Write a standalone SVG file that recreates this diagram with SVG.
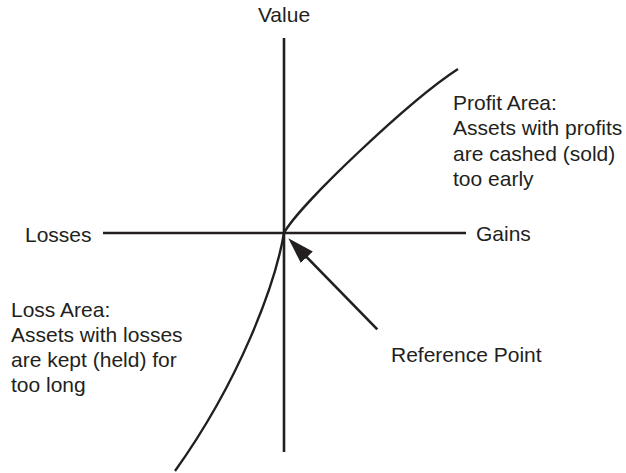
<svg xmlns="http://www.w3.org/2000/svg" width="626" height="473" viewBox="0 0 626 473">
<style>
  .ax{stroke:#231f20;stroke-width:2.6;fill:none}
  .cv{stroke:#231f20;stroke-width:2.4;fill:none}
  .t{font-family:"Liberation Sans",Arial,sans-serif;font-size:21px;fill:#231f20}
</style>
<defs>
  <marker id="ah" viewBox="0 0 26.5 16.7" refX="18.5" refY="8.35" markerWidth="26.5" markerHeight="16.7" markerUnits="userSpaceOnUse" orient="auto">
    <path d="M0,0 L26.5,8.35 L0,16.7 Z" fill="#231f20"/>
  </marker>
</defs>
<rect width="626" height="473" fill="#ffffff"/>
<g id="connectors">
  <line id="value-axis" class="ax" x1="284" y1="38" x2="284" y2="452"/>
  <line id="gains-axis" class="ax" x1="103" y1="233" x2="466" y2="233"/>
  <path id="profit-curve" class="cv" d="M284,233 C298,206 410,100 458,69"/>
  <path id="loss-curve" class="cv" d="M284,233 C275,285 240,380 175,471"/>
  <line id="ref-arrow" class="ax" x1="377.3" y1="329.3" x2="293.9" y2="244" marker-end="url(#ah)"/>
</g>
<g id="value"><text class="t" x="284" y="22" text-anchor="middle">Value</text></g>
<g id="losses"><text class="t" x="25" y="241.5">Losses</text></g>
<g id="gains"><text class="t" x="476" y="241">Gains</text></g>
<g id="profit-area">
  <text class="t" x="453" y="109.5">Profit Area:</text>
  <text class="t" x="453" y="135">Assets with profits</text>
  <text class="t" x="453" y="160.5">are cashed (sold)</text>
  <text class="t" x="453" y="186">too early</text>
</g>
<g id="loss-area">
  <text class="t" x="11" y="317">Loss Area:</text>
  <text class="t" x="11" y="342">Assets with losses</text>
  <text class="t" x="11" y="367">are kept (held) for</text>
  <text class="t" x="11" y="392">too long</text>
</g>
<g id="reference-point"><text class="t" x="391" y="362">Reference Point</text></g>
</svg>
